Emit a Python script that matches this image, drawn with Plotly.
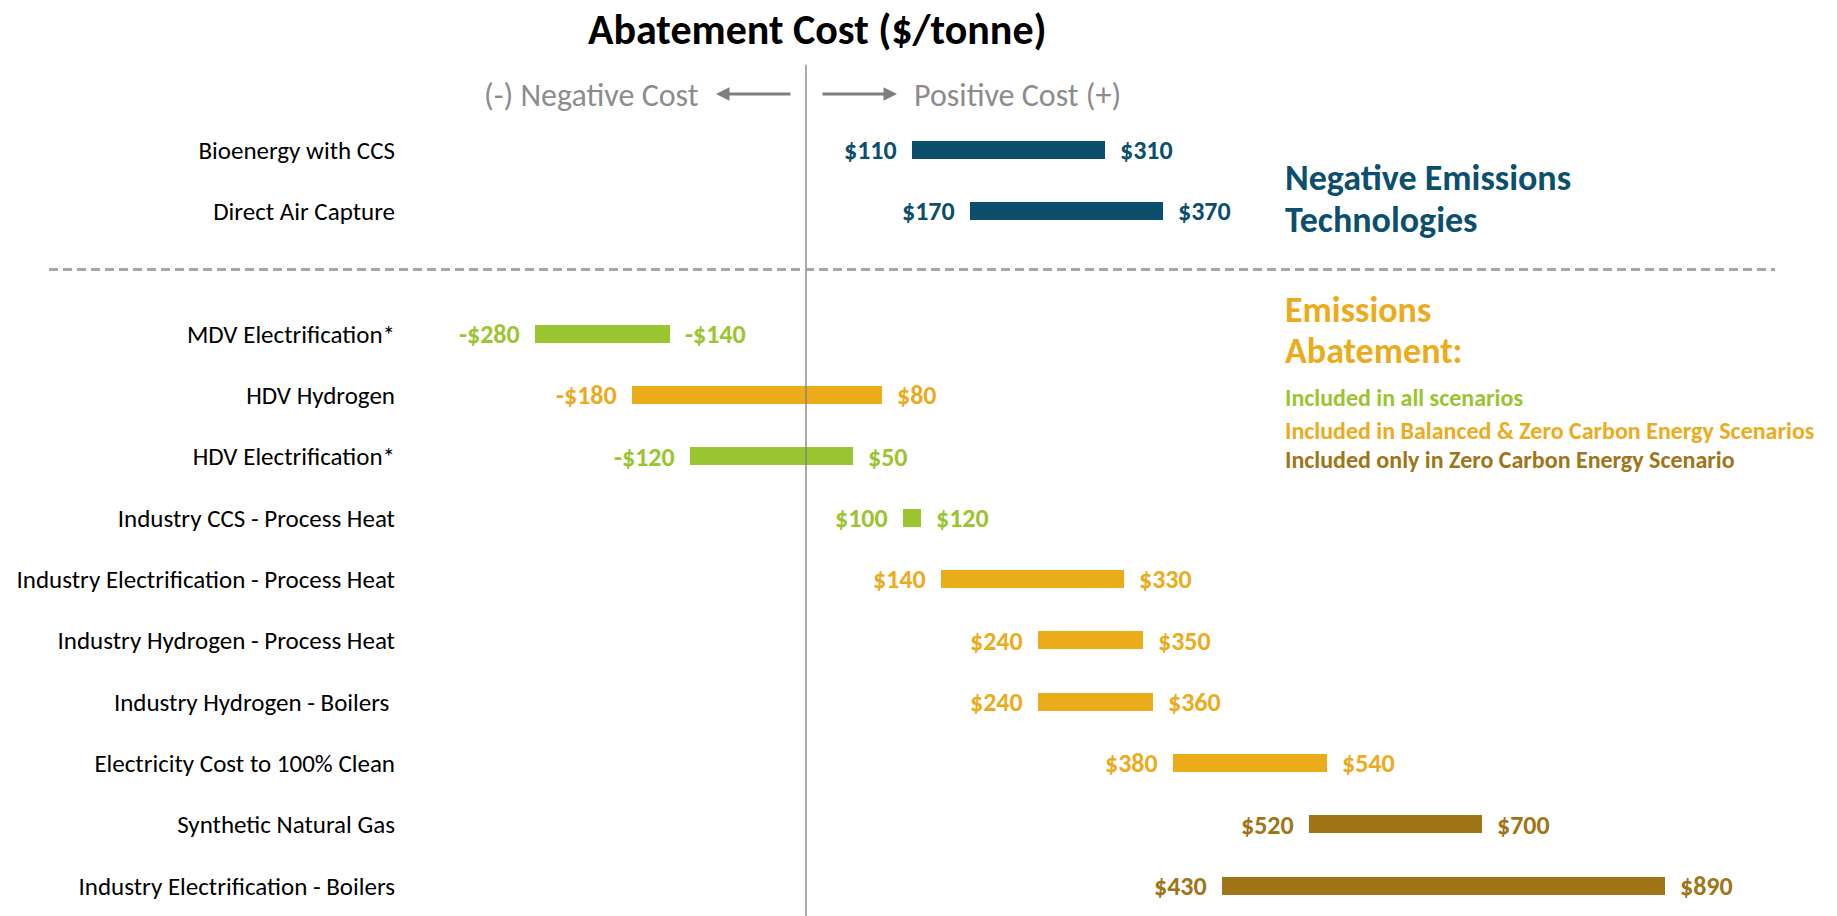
import plotly.graph_objects as go

# ---------------- data ----------------
categories = [
    "Bioenergy with CCS",
    "Direct Air Capture",
    "",  # separator slot
    "MDV Electrification*",
    "HDV Hydrogen",
    "HDV Electrification*",
    "Industry CCS - Process Heat",
    "Industry Electrification - Process Heat",
    "Industry Hydrogen - Process Heat",
    "Industry Hydrogen - Boilers ",
    "Electricity Cost to 100% Clean",
    "Synthetic Natural Gas",
    "Industry Electrification - Boilers",
]
low_cost = [110, 170, None, -280, -180, -120, 100, 140, 240, 240, 380, 520, 430]
high_cost = [310, 370, None, -140, 80, 50, 120, 330, 350, 360, 540, 700, 890]
group = ["net", "net", None, "all", "bal", "all", "all", "bal", "bal", "bal", "bal", "zero", "zero"]

colors = {
    "net": "#0B4F6C",
    "all": "#9BC431",
    "bal": "#EBAC1C",
    "zero": "#A07518",
}
legend_lines = [
    ("Included in all scenarios", "all"),
    ("Included in Balanced & Zero Carbon Energy Scenarios", "bal"),
    ("Included only in Zero Carbon Energy Scenario", "zero"),
]

FONT = "Carlito, Lato, sans-serif"
W, H = 1837, 916
L_MARGIN = 405
PLOT_W = W - L_MARGIN


def px(xp):
    return (xp - L_MARGIN) / PLOT_W


def py(yp):
    return 1 - yp / H


def money(v):
    return ("-$%d" % abs(v)) if v < 0 else ("$%d" % v)


rows = [i for i, g in enumerate(group) if g is not None]

fig = go.Figure()
fig.add_trace(go.Bar(
    y=rows,
    x=[high_cost[i] - low_cost[i] for i in rows],
    base=[low_cost[i] for i in rows],
    orientation="h",
    width=0.31,
    marker=dict(color=[colors[group[i]] for i in rows], line=dict(color="white", width=1)),
    hoverinfo="skip",
    showlegend=False,
))

annotations = []
for i in rows:
    c = colors[group[i]]
    annotations.append(dict(x=low_cost[i], y=i, xref="x", yref="y", text=money(low_cost[i]),
                            showarrow=False, xanchor="right", yanchor="middle", xshift=-13,
                            font=dict(family=FONT, size=26, color=c, weight="bold")))
    annotations.append(dict(x=high_cost[i], y=i, xref="x", yref="y", text=money(high_cost[i]),
                            showarrow=False, xanchor="left", yanchor="middle", xshift=12,
                            font=dict(family=FONT, size=26, color=c, weight="bold")))

# title
annotations.append(dict(x=px(817), y=py(29), xref="paper", yref="paper", text="<b>Abatement Cost ($/tonne)</b>",
                        showarrow=False, xanchor="center", yanchor="middle",
                        font=dict(family=FONT, size=42, color="black")))
# negative / positive cost
grey = "#8C8C8C"
annotations.append(dict(x=px(701), y=py(95), xref="paper", yref="paper", text="(-) Negative Cost",
                        showarrow=False, xanchor="right", yanchor="middle",
                        font=dict(family=FONT, size=32, color=grey)))
annotations.append(dict(x=px(912), y=py(95), xref="paper", yref="paper", text="Positive Cost (+)",
                        showarrow=False, xanchor="left", yanchor="middle",
                        font=dict(family=FONT, size=32, color=grey)))
annotations.append(dict(x=px(716), y=py(94), xref="paper", yref="paper", text="",
                        ax=76, ay=0, axref="pixel", ayref="pixel",
                        showarrow=True, arrowhead=2, arrowsize=0.9, arrowwidth=3, arrowcolor="#7F7F7F"))
annotations.append(dict(x=px(897), y=py(94), xref="paper", yref="paper", text="",
                        ax=-76, ay=0, axref="pixel", ayref="pixel",
                        showarrow=True, arrowhead=2, arrowsize=0.9, arrowwidth=3, arrowcolor="#7F7F7F"))

# side headings
for txt, yy in [("Negative Emissions", 178), ("Technologies", 220)]:
    annotations.append(dict(x=px(1283), y=py(yy), xref="paper", yref="paper", text="<b>%s</b>" % txt,
                            showarrow=False, xanchor="left", yanchor="middle",
                            font=dict(family=FONT, size=36, color=colors["net"])))
for txt, yy in [("Emissions", 310), ("Abatement:", 351)]:
    annotations.append(dict(x=px(1283), y=py(yy), xref="paper", yref="paper", text="<b>%s</b>" % txt,
                            showarrow=False, xanchor="left", yanchor="middle",
                            font=dict(family=FONT, size=36, color=colors["bal"])))
for (txt, g), yy in zip(legend_lines, [398, 430, 459]):
    annotations.append(dict(x=px(1283), y=py(yy), xref="paper", yref="paper", text="<b>%s</b>" % txt,
                            showarrow=False, xanchor="left", yanchor="middle",
                            font=dict(family=FONT, size=24, color=colors[g])))

shapes = [
    # zero line
    dict(type="line", xref="x", yref="y", x0=0, x1=0, y0=-1.39, y1=len(categories) + 1,
         line=dict(color="#7F7F7F", width=1.3)),
    # separator
    dict(type="line", xref="paper", yref="y", x0=px(49), x1=px(1775), y0=1.95, y1=1.95,
         line=dict(color="#A6A6A6", width=3, dash="9px,5px")),
]

x_per_px = 1 / 0.9666
fig.update_layout(
    width=W, height=H,
    margin=dict(l=L_MARGIN, r=0, t=0, b=0),
    paper_bgcolor="white", plot_bgcolor="white",
    xaxis=dict(range=[(L_MARGIN - 806) * x_per_px, (W - 806) * x_per_px], visible=False, fixedrange=True),
    yaxis=dict(range=[12.489, -2.446], tickvals=list(range(len(categories))), ticktext=categories,
               showgrid=False, zeroline=False, showline=False, ticks="", ticklabelstandoff=9,
               tickfont=dict(family=FONT, size=25, color="black"), fixedrange=True),
    annotations=annotations,
    shapes=shapes,
    bargap=0,
)

fig.write_html("out.html", config={"displayModeBar": False},
               post_script="document.body.style.margin='0px';document.body.style.overflow='hidden';")
